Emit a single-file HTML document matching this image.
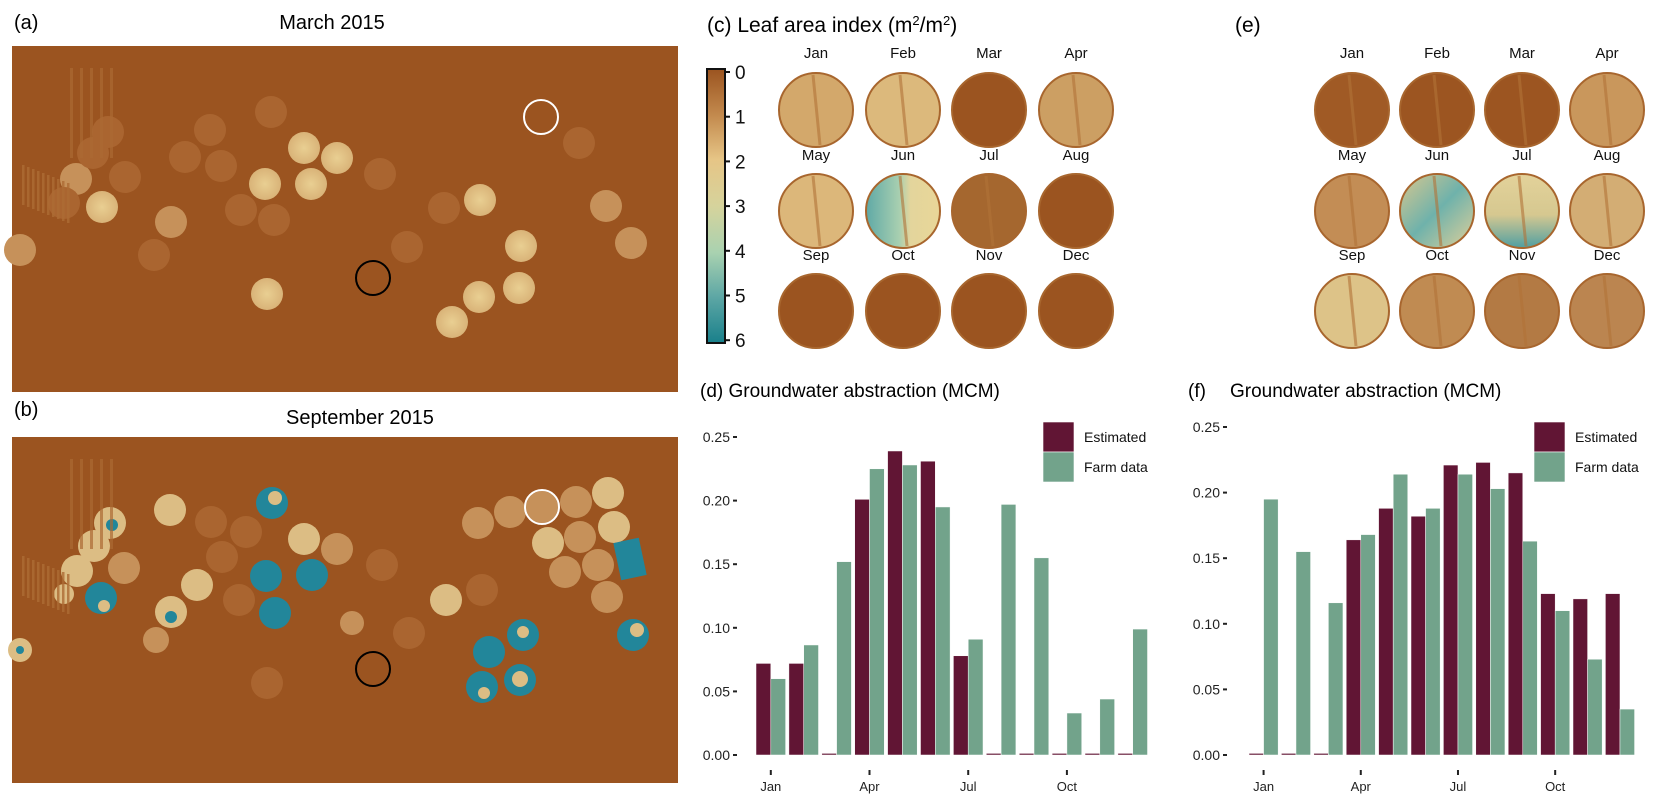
<!DOCTYPE html>
<html><head><meta charset="utf-8">
<style>
body{margin:0;background:#fff;}
svg{display:block;font-family:"Liberation Sans",sans-serif;}
.nar{font-family:"Liberation Sans Narrow","Liberation Sans",sans-serif;}
</style></head>
<body>
<svg id="fig" width="1663" height="809" viewBox="0 0 1663 809" xmlns="http://www.w3.org/2000/svg">
<defs>
<linearGradient id="cbar" x1="0" y1="0" x2="0" y2="1">
<stop offset="0" stop-color="#9b5420"/><stop offset="0.17" stop-color="#c38a4e"/>
<stop offset="0.33" stop-color="#e6c586"/><stop offset="0.5" stop-color="#d6d39c"/>
<stop offset="0.67" stop-color="#a9d2b0"/><stop offset="0.83" stop-color="#5ea7a5"/>
<stop offset="1" stop-color="#19808b"/></linearGradient>
<radialGradient id="bright"><stop offset="0" stop-color="#e9cf92"/><stop offset="1" stop-color="#d9b378"/></radialGradient>
<linearGradient id="junc" x1="0" y1="0" x2="1" y2="0"><stop offset="0" stop-color="#5fa9a6"/><stop offset="0.45" stop-color="#a8cfb0"/><stop offset="0.6" stop-color="#e3d59c"/><stop offset="1" stop-color="#e9d698"/></linearGradient>
<linearGradient id="june" x1="0" y1="0" x2="1" y2="1"><stop offset="0" stop-color="#d9c88e"/><stop offset="0.5" stop-color="#6fb2ab"/><stop offset="1" stop-color="#e0d09a"/></linearGradient>
<linearGradient id="jule" x1="0" y1="0" x2="0" y2="1"><stop offset="0" stop-color="#e3d29a"/><stop offset="0.55" stop-color="#d6c890"/><stop offset="1" stop-color="#4f9fa2"/></linearGradient>
</defs>

<!-- Panel a -->
<text x="14" y="29" font-size="20" class="nar">(a)</text>
<text x="332" y="29" font-size="20" text-anchor="middle" class="nar">March 2015</text>
<g id="mapA"><rect x="12" y="46" width="666" height="346" fill="#9b5420"/></g>

<!-- Panel b -->
<text x="14" y="416" font-size="20" class="nar">(b)</text>
<text x="360" y="424" font-size="20" text-anchor="middle" class="nar">September 2015</text>
<g id="mapB"><rect x="12" y="437" width="666" height="346" fill="#9b5420"/></g>

<!-- Panel c -->
<text x="707" y="32" font-size="21" class="nar">(c)  Leaf area index (m<tspan baseline-shift="super" font-size="13">2</tspan>/m<tspan baseline-shift="super" font-size="13">2</tspan>)</text>
<g>
<rect x="707" y="69" width="18" height="274" fill="url(#cbar)" stroke="#111" stroke-width="2"/>
</g>
<g id="cbTicks"></g>
<g id="laiC"></g>

<!-- Panel e -->
<text x="1235" y="32" font-size="21" class="nar">(e)</text>
<g id="laiE"></g>

<!-- Panel d -->
<text x="700" y="397" font-size="19">(d)  Groundwater abstraction (MCM)</text>
<g id="chartD"></g>

<!-- Panel f -->
<text x="1188" y="397" font-size="19">(f)</text>
<text x="1230" y="397" font-size="19">Groundwater abstraction (MCM)</text>
<g id="chartF"></g>
</svg>

<script>
// ---- chart data ----
const months = ["Jan","Feb","Mar","Apr","May","Jun","Jul","Aug","Sep","Oct","Nov","Dec"];
const tickMonths = ["Jan","Apr","Jul","Oct"];
const yTicks = [0, 0.05, 0.10, 0.15, 0.20, 0.25];
const yTickLabels = ["0.00","0.05","0.10","0.15","0.20","0.25"];
const estD  = [0.072,0.072,0,0.201,0.239,0.231,0.078,0,0,0,0,0];
const farmD = [0.060,0.0865,0.152,0.225,0.228,0.195,0.091,0.197,0.155,0.033,0.044,0.099];
const estF  = [0,0,0,0.164,0.188,0.182,0.221,0.223,0.215,0.123,0.119,0.123];
const farmF = [0.195,0.155,0.116,0.168,0.214,0.188,0.214,0.203,0.163,0.110,0.073,0.035];
const colorbarTicks = [0,1,2,3,4,5,6];

const NS="http://www.w3.org/2000/svg";
function mk(tag, attrs, parent){const e=document.createElementNS(NS,tag);for(const k in attrs)e.setAttribute(k,attrs[k]);parent.appendChild(e);return e;}

function drawChart(gid, est, farm, o){
  const g=document.getElementById(gid);
  const yS=v=>o.y0-(v/0.25)*(o.y0-o.y25);
  const xS=i=>o.x0+i*o.step;
  const bw=o.step*0.45;
  yTicks.forEach((t,i)=>{
    const y=yS(t);
    const tx=mk('text',{x:o.lx,y:y+5,'font-size':14,'text-anchor':'end',fill:'#222'},g);
    tx.textContent=yTickLabels[i];
    
    
    const l=mk('line',{x1:o.lx+3,x2:o.lx+7,y1:y,y2:y,stroke:'#222','stroke-width':2},g);
    
    
  });
  months.forEach((m,i)=>{
    const x=xS(i);
    const he=Math.max(yS(0)-yS(est[i]),1.6);
    const r1=mk('rect',{x:x,y:yS(0)-he,width:bw,height:he,fill:'#611534',stroke:'#fff','stroke-width':0.5},g);
    
    
    const hf=yS(0)-yS(farm[i]);
    const r2=mk('rect',{x:x+bw,y:yS(0)-hf,width:bw,height:hf,fill:'#72a38b',stroke:'#fff','stroke-width':0.5},g);
    
    
    if(tickMonths.indexOf(m)>=0){
      const cx=x+bw;
      const tk=mk('line',{x1:cx,x2:cx,y1:770,y2:775,stroke:'#222','stroke-width':2},g);
      
      
      const tl=mk('text',{x:cx,y:791,'font-size':13,'text-anchor':'middle',fill:'#222'},g);
      tl.textContent=m;
      
      
    }
  });
  const le=mk('rect',{x:o.legx,y:422,width:31,height:30,fill:'#611534',stroke:'#fff','stroke-width':0.6},g);
  
  
  const lf=mk('rect',{x:o.legx,y:452,width:31,height:30,fill:'#72a38b',stroke:'#fff','stroke-width':0.6},g);
  
  
  const t1=mk('text',{x:o.legx+41,y:442,'font-size':14,fill:'#111'},g);
  t1.textContent='Estimated';
  
  
  const t2=mk('text',{x:o.legx+41,y:472,'font-size':14,fill:'#111'},g);
  t2.textContent='Farm data';
  
  
}
drawChart('chartD',estD,farmD,{x0:756,step:32.9,y0:755,y25:437,lx:730,legx:1043});
drawChart('chartF',estF,farmF,{x0:1249,step:32.4,y0:755,y25:427,lx:1220,legx:1534});

// colorbar ticks
const cbG=document.getElementById('cbTicks');
colorbarTicks.forEach(v=>{
  const y=72+v*44.7;
  const l=mk('line',{x1:725,x2:730,y1:y,y2:y,stroke:'#111','stroke-width':2},cbG);
  
  
  const t=mk('text',{x:735,y:y+7,'font-size':19,'class':'nar',fill:'#111'},cbG);
  t.textContent=String(v);
  
  
});

// LAI month grids
const laiColC=["#d3a86b","#dcb97c","#9b5420","#cc9f63","#dcb77a","url(#junc)","#a5672f","#9b5420","#9b5420","#9b5420","#9b5420","#9b5420"];
const laiColE=["#a05a25","#9c5521","#9c5521","#c9975c","#c38d55","url(#june)","url(#jule)","#d3ad74","#ddc388","#c08b52","#b37a44","#bb8550"];
function drawLai(gid, xs, cols){
  const g=document.getElementById(gid);
  const ys=[110,211,311];
  const ly=[58,160,260];
  months.forEach((m,i)=>{
    const cx=xs[i%4], cy=ys[Math.floor(i/4)];
    const t=mk('text',{x:cx,y:ly[Math.floor(i/4)],'font-size':15,'text-anchor':'middle','class':'nar',fill:'#111'},g);
    t.textContent=m;
    
    
    const c=mk('ellipse',{cx:cx,cy:cy,rx:37,ry:37,fill:cols[i],stroke:'#a8662e','stroke-width':2},g);
    
    
    if(cols[i]!=="#9b5420"){
      const l=mk('line',{x1:cx-3,y1:cy-35,x2:cx+4,y2:cy+35,stroke:'#b27338','stroke-width':3,opacity:0.6},g);
      
      
    }
  });
}
drawLai('laiC',[816,903,989,1076],laiColC);
drawLai('laiE',[1352,1437,1522,1607],laiColE);

// maps
function fields(gid, list){
  const g=document.getElementById(gid);
  list.forEach(f=>{
    const c=mk('circle',{cx:f[0],cy:f[1],r:f[3]||16,fill:f[2]},g);
    
    
  });
}
const B="url(#bright)", M="#c6915a", F="#aa6530", T="#22869a", Bg="#dcbd84";
fields('mapA',[[102,207,B],[265,184,B],[311,184,B],[304,148,B],[337,158,B],[171,222,M],[480,200,B],[521,246,B],[519,288,B],[479,297,B],[452,322,B],[267,294,B],[606,206,M],[631,243,M],
[271,112,F],[210,130,F],[185,157,F],[221,166,F],[76,179,M],[64,203,F],[125,177,F],[154,255,F],[380,174,F],[407,247,F],[444,208,F],[241,210,F],[274,220,F],[579,143,F],[93,153,F],[108,132,F],[20,250,M]]);
fields('mapB',[[170,510,Bg],[94,546,Bg],[77,571,Bg],[124,568,M],[197,585,Bg],[304,539,Bg],[337,549,M],[542,507,M],[510,512,M],[576,502,M],[608,493,Bg],[548,543,Bg],[580,537,M],[614,527,Bg],[565,572,M],[598,565,M],[607,597,M],[446,600,Bg],[478,523,M],[352,623,M,12],[156,640,M,13],
[211,522,F],[222,557,F],[246,532,F],[239,600,F],[382,565,F],[482,590,F],[267,683,F],[409,633,F],
[272,503,T],[266,576,T],[312,575,T],[275,613,T],[110,523,Bg],[101,598,T],[171,612,Bg],[64,594,Bg,10],[20,650,Bg,12],[482,687,T],[520,680,T],[523,635,T],[489,652,T],[633,635,T]]);
fields('mapB',[[275,498,Bg,7],[112,525,T,6],[171,617,T,6],[104,606,Bg,6],[520,679,Bg,8],[484,693,Bg,6],[523,632,Bg,6],[637,630,Bg,7],[20,650,T,4]]);
const gB=document.getElementById('mapB');
const rct=mk('rect',{x:617,y:540,width:26,height:38,fill:T,transform:'rotate(-12 630 559)'},gB);


[[ 'mapA',541,117,'#fff'],['mapA',373,278,'#000'],['mapB',542,507,'#fff'],['mapB',373,669,'#000']].forEach(m=>{
  const c=mk('circle',{cx:m[1],cy:m[2],r:17,fill:'none',stroke:m[3],'stroke-width':2},document.getElementById(m[0]));
  
  
});
['mapA','mapB'].forEach((id,k)=>{
  const g=document.getElementById(id); const oy=k?391:0;
  for(let i=0;i<10;i++){
    const r=mk('rect',{x:22+i*5,y:165+oy+i*2,width:2.5,height:40,fill:'#ad6c35',opacity:0.8},g);
    
    
  }
  for(let i=0;i<5;i++){
    const r=mk('rect',{x:70+i*10,y:68+oy,width:3,height:90,fill:'#ab6a33',opacity:0.7},g);
    
    
  }
});
</script>
</body></html>
